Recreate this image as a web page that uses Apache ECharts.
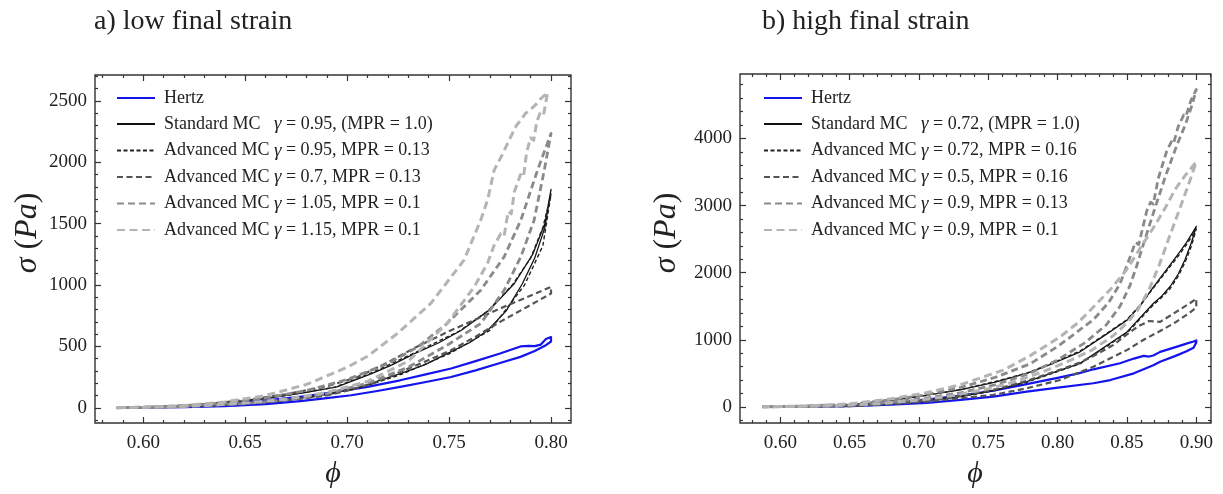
<!DOCTYPE html>
<html>
<head>
<meta charset="utf-8">
<script src="https://cdn.jsdelivr.net/npm/echarts@6/dist/echarts.min.js"></script>
<style>
  html, body { margin: 0; padding: 0; background: #fff; }
  #chart { width: 1223px; height: 494px; }
</style>
</head>
<body>
<div id="chart"></div>
<script>
// tick labels
const phiTicksLow = [0.60, 0.65, 0.70, 0.75, 0.80];
const phiTicksHigh = [0.60, 0.65, 0.70, 0.75, 0.80, 0.85, 0.90];
const sigmaTicksLow = [0, 500, 1000, 1500, 2000, 2500];
const sigmaTicksHigh = [0, 1000, 2000, 3000, 4000];

// a) low final strain, each curve is a loading / unloading loop [phi, sigma]
const hertzLow = [
  [0.587, 0], [0.60, 2], [0.62, 6], [0.64, 14], [0.66, 30], [0.677, 55], [0.69, 78], [0.702, 102], [0.714, 135],
  [0.726, 170], [0.738, 208], [0.751, 251], [0.763, 305], [0.775, 365], [0.785, 415], [0.792, 462], [0.797, 505], [0.80, 540],
  [0.80, 577], [0.7975, 560], [0.795, 515], [0.792, 503], [0.789, 505], [0.785, 500], [0.775, 442], [0.763, 380],
  [0.751, 320], [0.738, 270], [0.726, 224], [0.71, 170], [0.695, 132], [0.68, 96], [0.665, 68], [0.65, 45], [0.63, 22], [0.61, 8], [0.587, 0]
];
const standardLow = [
  [0.587, 0], [0.61, 6], [0.63, 18], [0.65, 35], [0.67, 62], [0.69, 110], [0.7065, 170], [0.726, 279], [0.738, 350],
  [0.749, 442], [0.76, 530], [0.769, 632], [0.778, 790], [0.786, 1013], [0.792, 1220], [0.797, 1470], [0.80, 1780],
  [0.797, 1502], [0.791, 1250], [0.782, 1013], [0.77, 800], [0.756, 632], [0.745, 530], [0.733, 442], [0.722, 350],
  [0.712, 279], [0.695, 170], [0.68, 125], [0.66, 75], [0.64, 42], [0.62, 18], [0.60, 5], [0.587, 0]
];
const advanced095Low = [
  [0.587, 0], [0.61, 6], [0.63, 17], [0.65, 33], [0.67, 60], [0.69, 105], [0.707, 165], [0.727, 275], [0.75, 440],
  [0.77, 630], [0.787, 1000], [0.796, 1320], [0.80, 1740],
  [0.796, 1470], [0.79, 1220], [0.781, 1000], [0.769, 790], [0.755, 625], [0.732, 440], [0.711, 278], [0.694, 168],
  [0.67, 100], [0.65, 60], [0.63, 30], [0.61, 10], [0.587, 0]
];
const advanced07Low = [
  [0.587, 0], [0.61, 5], [0.63, 15], [0.65, 32], [0.67, 60], [0.69, 100], [0.70, 140], [0.713, 200], [0.726, 292],
  [0.738, 375], [0.751, 469], [0.763, 580], [0.775, 700], [0.788, 820], [0.80, 931],
  [0.80, 985], [0.788, 900], [0.775, 809], [0.763, 720], [0.751, 632], [0.734, 496], [0.72, 370], [0.705, 250],
  [0.69, 175], [0.67, 110], [0.65, 62], [0.63, 30], [0.61, 10], [0.587, 0]
];
const advanced105Low = [
  [0.587, 0], [0.61, 6], [0.63, 18], [0.65, 35], [0.67, 65], [0.69, 115], [0.71, 200], [0.73, 330], [0.75, 520],
  [0.7655, 687], [0.777, 958], [0.7852, 1230], [0.7917, 1529], [0.7967, 1937], [0.80, 2237],
  [0.7934, 1937], [0.7852, 1529], [0.777, 1230], [0.7655, 958], [0.749, 687], [0.735, 500], [0.72, 360], [0.70, 230],
  [0.68, 140], [0.66, 80], [0.64, 40], [0.62, 15], [0.587, 0]
];
const advanced115Low = [
  [0.587, 0], [0.61, 6], [0.63, 18], [0.65, 38], [0.67, 70], [0.69, 125], [0.71, 215], [0.73, 380], [0.749, 687],
  [0.7623, 985], [0.7688, 1176], [0.772, 1320], [0.7754, 1420], [0.777, 1400], [0.779, 1600], [0.7805, 1580],
  [0.782, 1760], [0.785, 1900], [0.7865, 1880], [0.788, 2080], [0.79, 2200], [0.7915, 2180], [0.793, 2330],
  [0.795, 2420], [0.7965, 2400], [0.7983, 2570],
  [0.795, 2520], [0.7925, 2470], [0.79, 2430], [0.7875, 2400], [0.7852, 2345], [0.783, 2300], [0.78, 2200],
  [0.776, 2060], [0.7721, 1937], [0.769, 1700], [0.7655, 1529], [0.7573, 1203], [0.741, 850], [0.7246, 605],
  [0.71, 420], [0.70, 330], [0.68, 190], [0.66, 100], [0.64, 48], [0.62, 18], [0.60, 5], [0.587, 0]
];

// b) high final strain
const hertzHigh = [
  [0.587, 0], [0.62, 4], [0.65, 12], [0.68, 35], [0.7055, 60], [0.73, 104], [0.7536, 153], [0.7777, 227], [0.8017, 290],
  [0.8258, 352], [0.838, 400], [0.855, 500], [0.869, 620], [0.8739, 672], [0.885, 760], [0.893, 830], [0.898, 880], [0.90, 960],
  [0.90, 990], [0.898, 975], [0.894, 950], [0.885, 890], [0.8739, 820], [0.869, 765], [0.866, 750], [0.862, 760],
  [0.855, 720], [0.845, 650], [0.8258, 560], [0.815, 500], [0.8017, 440], [0.7777, 340], [0.7536, 240], [0.7296, 170],
  [0.705, 110], [0.68, 65], [0.65, 30], [0.62, 10], [0.587, 0]
];
const standardHigh = [
  [0.587, 0], [0.62, 12], [0.65, 35], [0.6815, 104], [0.705, 170], [0.7296, 252], [0.755, 370], [0.7777, 500],
  [0.797, 650], [0.8162, 821], [0.835, 1080], [0.85, 1291], [0.86, 1520], [0.869, 1785], [0.878, 2030], [0.886, 2250],
  [0.893, 2450], [0.898, 2620], [0.90, 2690],
  [0.8965, 2450], [0.892, 2200], [0.887, 1980], [0.881, 1790], [0.875, 1650], [0.869, 1540], [0.85, 1117], [0.8162, 648],
  [0.7777, 375], [0.755, 250], [0.7296, 153], [0.705, 95], [0.68, 55], [0.65, 22], [0.62, 6], [0.587, 0]
];
const advanced072High = [
  [0.587, 0], [0.62, 12], [0.65, 36], [0.68, 100], [0.705, 175], [0.73, 258], [0.755, 378], [0.778, 505], [0.797, 660],
  [0.816, 830], [0.835, 1090], [0.85, 1300], [0.86, 1530], [0.869, 1770], [0.878, 2010], [0.886, 2220], [0.893, 2420],
  [0.898, 2580], [0.90, 2650],
  [0.8965, 2400], [0.892, 2160], [0.887, 1950], [0.881, 1760], [0.875, 1630], [0.869, 1520], [0.85, 1100], [0.816, 640],
  [0.778, 370], [0.755, 245], [0.73, 150], [0.705, 92], [0.68, 52], [0.65, 20], [0.62, 6], [0.587, 0]
];
const advanced05High = [
  [0.587, 0], [0.62, 3], [0.65, 10], [0.68, 40], [0.7055, 79], [0.73, 130], [0.7536, 178], [0.7777, 277], [0.8017, 400],
  [0.8258, 598], [0.8499, 846], [0.862, 1000], [0.8739, 1130], [0.885, 1260], [0.895, 1400], [0.90, 1480],
  [0.90, 1612], [0.895, 1540], [0.8835, 1390], [0.8739, 1266], [0.866, 1280], [0.858, 1200], [0.85, 1080], [0.84, 920],
  [0.826, 760], [0.816, 660], [0.80, 540], [0.778, 390], [0.755, 260], [0.73, 165], [0.705, 100], [0.68, 55], [0.65, 20],
  [0.62, 5], [0.587, 0]
];
const advanced09m013High = [
  [0.587, 0], [0.62, 14], [0.65, 40], [0.68, 105], [0.705, 180], [0.73, 290], [0.755, 440], [0.78, 640], [0.80, 900],
  [0.8258, 1300], [0.837, 1560], [0.845, 1835], [0.8522, 2230], [0.856, 2450], [0.8585, 2420], [0.8643, 2923],
  [0.867, 3050], [0.869, 3020], [0.8725, 3400], [0.8787, 3813], [0.882, 3950], [0.8835, 3920], [0.887, 4180],
  [0.891, 4350], [0.8925, 4330], [0.896, 4560], [0.90, 4730],
  [0.897, 4500], [0.892, 4200], [0.886, 3900], [0.878, 3450], [0.87, 2950], [0.863, 2500], [0.857, 2100], [0.852, 1800],
  [0.845, 1500], [0.835, 1220], [0.82, 960], [0.80, 700], [0.78, 500], [0.755, 330], [0.73, 210], [0.705, 130],
  [0.68, 70], [0.65, 28], [0.62, 8], [0.587, 0]
];
const advanced09m01High = [
  [0.587, 0], [0.62, 15], [0.65, 45], [0.68, 120], [0.705, 210], [0.73, 330], [0.7608, 549], [0.78, 760], [0.8017, 1043],
  [0.815, 1260], [0.8258, 1488], [0.838, 1750], [0.85, 2050], [0.86, 2380], [0.87, 2700], [0.878, 2980], [0.885, 3250],
  [0.892, 3450], [0.90, 3650],
  [0.895, 3350], [0.888, 2950], [0.88, 2500], [0.873, 2100], [0.866, 1750], [0.858, 1450], [0.85, 1250], [0.84, 1060],
  [0.825, 850], [0.81, 700], [0.79, 530], [0.77, 380], [0.75, 270], [0.725, 170], [0.70, 100], [0.67, 45], [0.63, 12], [0.587, 0]
];

const SERIF = '"Liberation Serif", "DejaVu Serif", serif';
const INK = "#222";

const styles = {
  hertz: { color: "#1414ee", width: 2.2, type: "solid" },
  standard: { color: "#111", width: 1.3, type: "solid" },
  advThin: { color: "#222", width: 1.4, type: [4, 2.5] },
  advDark: { color: "#555", width: 2.2, type: [6, 3.5] },
  advMid: { color: "#8a8a8a", width: 2.8, type: [7, 4] },
  advLight: { color: "#b4b4b4", width: 3, type: [8, 4.5] }
};

const panels = [
  {
    grid: { left: 95, top: 75, right: 652, bottom: 71 },
    x: [0.5763, 0.8098], y: [-124, 2712],
    phiTicks: phiTicksLow, sigmaTicks: sigmaTicksLow, minorX: 0.01, minorY: 100,
    legendLeft: 111,
    series: [
      ["Hertz", hertzLow, styles.hertz],
      ["Standard MC   γ = 0.95, (MPR = 1.0)", standardLow, styles.standard],
      ["Advanced MC γ = 0.95, MPR = 0.13", advanced095Low, styles.advThin],
      ["Advanced MC γ = 0.7, MPR = 0.13", advanced07Low, styles.advDark],
      ["Advanced MC γ = 1.05, MPR = 0.1", advanced105Low, styles.advMid],
      ["Advanced MC γ = 1.15, MPR = 0.1", advanced115Low, styles.advLight]
    ]
  },
  {
    grid: { left: 740, top: 74, right: 12, bottom: 71 },
    x: [0.5709, 0.9106], y: [-240, 4960],
    phiTicks: phiTicksHigh, sigmaTicks: sigmaTicksHigh, minorX: 0.01, minorY: 200,
    legendLeft: 758,
    series: [
      ["Hertz", hertzHigh, styles.hertz],
      ["Standard MC   γ = 0.72, (MPR = 1.0)", standardHigh, styles.standard],
      ["Advanced MC γ = 0.72, MPR = 0.16", advanced072High, styles.advThin],
      ["Advanced MC γ = 0.5, MPR = 0.16", advanced05High, styles.advDark],
      ["Advanced MC γ = 0.9, MPR = 0.13", advanced09m013High, styles.advMid],
      ["Advanced MC γ = 0.9, MPR = 0.1", advanced09m01High, styles.advLight]
    ]
  }
];

const minorValues = (range, step, majors) => {
  const out = [];
  for (let v = Math.ceil(range[0] / step) * step; v <= range[1]; v += step) {
    const r = Math.round(v / step) * step;
    if (!majors.some((m) => Math.abs(m - r) < step / 10)) out.push(r);
  }
  return out;
};

const grids = [], xAxes = [], yAxes = [], series = [], legends = [];

panels.forEach((p, gi) => {
  grids.push({ ...p.grid, show: true, borderColor: "#333", borderWidth: 1.4, containLabel: false });
  const minX = minorValues(p.x, p.minorX, p.phiTicks);
  const minY = minorValues(p.y, p.minorY, p.sigmaTicks);
  const tickLine = { color: "#333", width: 1.2 };
  const mkX = (position, values, len, labels) => ({
    type: "value", gridIndex: gi, position, min: p.x[0], max: p.x[1],
    axisLine: { show: false, onZero: false }, splitLine: { show: false },
    axisTick: { show: true, inside: true, length: len, customValues: values, lineStyle: tickLine },
    axisLabel: labels
      ? { show: true, customValues: values, margin: 11, color: INK, fontFamily: SERIF, fontSize: 19, formatter: (v) => v.toFixed(2) }
      : { show: false }
  });
  const mkY = (position, values, len, labels) => ({
    type: "value", gridIndex: gi, position, min: p.y[0], max: p.y[1],
    axisLine: { show: false, onZero: false }, splitLine: { show: false },
    axisTick: { show: true, inside: true, length: len, customValues: values, lineStyle: tickLine },
    axisLabel: labels
      ? { show: true, customValues: values, margin: 8, color: INK, fontFamily: SERIF, fontSize: 19, formatter: (v) => String(v) }
      : { show: false }
  });
  const xBase = xAxes.length, yBase = yAxes.length;
  xAxes.push(mkX("bottom", p.phiTicks, 6, true), mkX("bottom", minX, 3, false), mkX("top", p.phiTicks, 6, false), mkX("top", minX, 3, false));
  yAxes.push(mkY("left", p.sigmaTicks, 6, true), mkY("left", minY, 3, false), mkY("right", p.sigmaTicks, 6, false), mkY("right", minY, 3, false));
  p.series.forEach(([name, data, st]) => {
    series.push({
      name, type: "line", data, xAxisIndex: xBase, yAxisIndex: yBase,
      symbol: "none", showSymbol: false, silent: true, animation: false,
      lineStyle: { color: st.color, width: st.width, type: st.type, cap: "butt", join: "round" },
      itemStyle: { color: st.color }
    });
  });
  legends.push({
    orient: "vertical", left: p.legendLeft, top: 84,
    itemWidth: 38, itemHeight: 14, itemGap: 7.5, selectedMode: false,
    itemStyle: { opacity: 0, borderWidth: 0 },
    data: p.series.map((s) => s[0]),
    formatter: (n) => n.replace("γ", "{g|γ}"),
    textStyle: {
      fontFamily: SERIF, fontSize: 18, color: INK, padding: [0, 0, 0, 4],
      rich: { g: { fontFamily: SERIF, fontSize: 19, fontStyle: "italic", color: INK } }
    }
  });
});

const sigmaLabel = (x) => ({
  type: "text", x, y: 233, rotation: Math.PI / 2,
  style: {
    text: "{i|σ} ({i|Pa})", fill: INK, font: `32px ${SERIF}`, align: "center", verticalAlign: "middle",
    rich: { i: { fontFamily: SERIF, fontSize: 32, fontStyle: "italic", fill: INK } }
  }
});
const phiLabel = (x) => ({
  type: "text", x, y: 474,
  style: { text: "ϕ", fill: INK, font: `italic 30px ${SERIF}`, align: "center", verticalAlign: "middle" }
});

const chart = echarts.init(document.getElementById("chart"), null, { renderer: "canvas" });
chart.setOption({
  animation: false,
  backgroundColor: "#fff",
  grid: grids,
  xAxis: xAxes,
  yAxis: yAxes,
  legend: legends,
  series,
  graphic: [
    { type: "text", x: 94, y: 22, style: { text: "a) low final strain", font: `28px ${SERIF}`, fill: INK, verticalAlign: "middle" } },
    { type: "text", x: 762, y: 22, style: { text: "b) high final strain", font: `28px ${SERIF}`, fill: INK, verticalAlign: "middle" } },
    sigmaLabel(28), sigmaLabel(667),
    phiLabel(333), phiLabel(975)
  ]
});
</script>
</body>
</html>
